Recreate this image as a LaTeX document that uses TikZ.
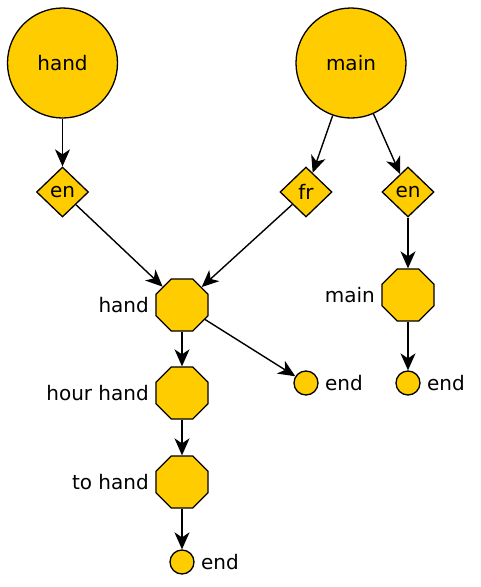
\documentclass[tikz,border=0pt]{standalone}
\usepackage{fontspec}
\setmainfont{DejaVu Sans}
\usetikzlibrary{shapes.geometric,arrows.meta}
\definecolor{gold}{HTML}{FFCC00}
\tikzset{
  base/.style={draw=black, fill=gold, line width=1.3pt, inner sep=0pt},
  bigcirc/.style={base, circle, minimum size=110pt},
  lang/.style={base, diamond, minimum width=52pt, minimum height=50pt},
  octa/.style={base, regular polygon, regular polygon sides=8, minimum size=56.3pt},
  endc/.style={base, circle, minimum size=24pt},
  lab/.style={label distance=3pt},
  conn/.style={line width=1.4pt, -{Stealth[length=17pt,width=15pt,inset=5pt]}}
}
\begin{document}
\begin{tikzpicture}[x=1pt,y=-1pt,font=\fontsize{20}{24}\selectfont]
\useasboundingbox (0,0) rectangle (480,587);
\node[bigcirc] (hand) at (62.5,63) {hand};
\node[bigcirc] (main) at (351,63) {main};
\node[lang] (en1) at (62.5,192) {en};
\node[lang] (fr) at (306,192) {fr};
\node[lang] (en2) at (408,192) {en};
\node[octa, label={[lab]left:hand}] (o1) at (182,305) {};
\node[octa, label={[lab]left:hour hand}] (o2) at (182,393) {};
\node[octa, label={[lab]left:to hand}] (o3) at (182,482) {};
\node[octa, label={[lab]left:main}] (o4) at (408,295) {};
\node[endc, label={[lab]right:end}] (e1) at (306,383) {};
\node[endc, label={[lab]right:end}] (e2) at (408,383) {};
\node[endc, label={[lab]right:end}] (e3) at (182,562) {};
\draw[conn] (hand) -- (en1);
\draw[conn] (main) -- (fr);
\draw[conn] (main) -- (en2);
\draw[conn] (en1) -- (o1);
\draw[conn] (fr) -- (o1);
\draw[conn] (en2) -- (o4);
\draw[conn] (o1) -- (o2);
\draw[conn] (o1) -- (e1);
\draw[conn] (o2) -- (o3);
\draw[conn] (o3) -- (e3);
\draw[conn] (o4) -- (e2);
\end{tikzpicture}
\end{document}
